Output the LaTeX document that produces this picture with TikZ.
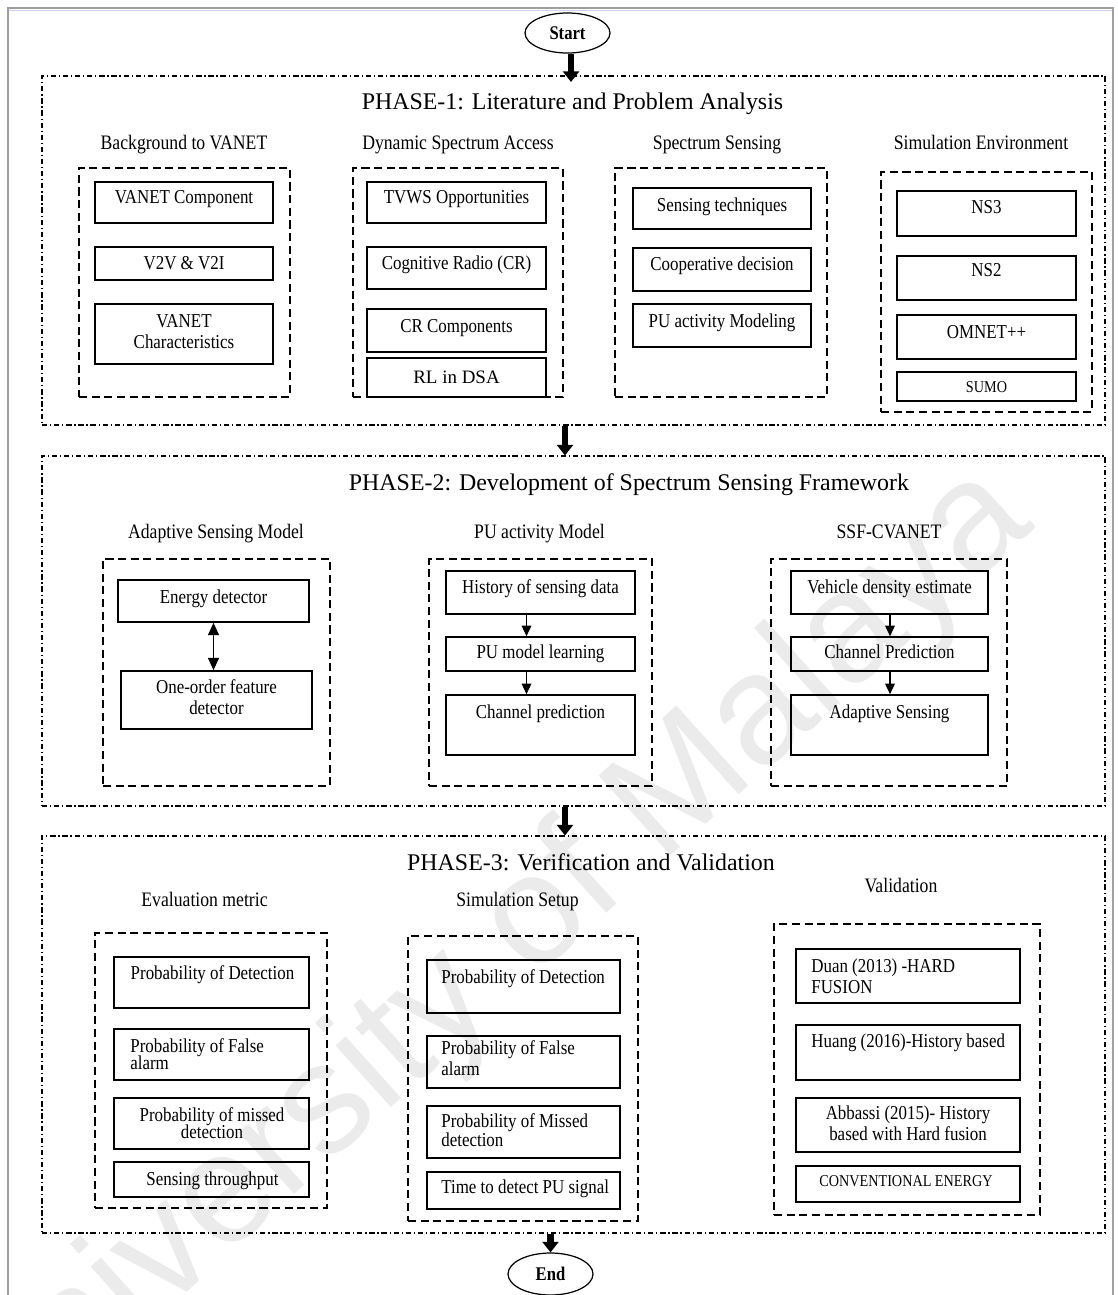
\documentclass[tikz,border=0pt]{standalone}
\usepackage{fontspec}
\setmainfont{Liberation Serif}
\newfontfamily\condfont[FakeStretch=0.86]{Liberation Serif}
\newfontfamily\wmfont{Liberation Sans}
\usetikzlibrary{fit,shapes.geometric,arrows.meta}

\tikzset{
  phasebox/.style={draw, line width=0.6pt, dash pattern=on 3pt off 1.6pt on 0.7pt off 1.6pt, inner sep=0pt},
  groupbox/.style={draw, line width=0.85pt, dash pattern=on 4.6pt off 2.6pt, inner sep=0pt},
  itembox/.style={draw, line width=0.95pt, inner sep=0pt},
  phasetitle/.style={font=\fontsize{13.6}{16}\selectfont, anchor=base, inner sep=0pt},
  grouptitle/.style={font=\condfont\fontsize{11.7}{14}\selectfont, anchor=base, inner sep=0pt},
  itemtext/.style={font=\condfont\fontsize{11.2}{13}\selectfont, anchor=base, inner sep=0pt},
  itemleft/.style={itemtext, anchor=base west},
  smalltext/.style={font=\condfont\fontsize{9.4}{11}\selectfont, anchor=base, inner sep=0pt},
  terminal/.style={draw, ellipse, line width=0.7pt, minimum width=1.7cm, minimum height=0.8cm,
    inner sep=0pt, font=\condfont\bfseries\fontsize{11}{13}\selectfont},
  flowarrow/.style={line width=3.8pt, -{Triangle[width=9pt,length=6pt]}},
  steparrow/.style={line width=0.7pt, -{Triangle[width=5.5pt,length=6pt]}},
  bothways/.style={line width=0.9pt, {Triangle[width=6.2pt,length=7pt]}-{Triangle[width=6.2pt,length=7pt]}},
}

\begin{document}
\begin{tikzpicture}[x=0.02cm, y=-0.02cm]
\useasboundingbox (0,0) rectangle (1118,1295);
\clip (0,0) rectangle (1118,1295);
\fill[white] (0,0) rectangle (1118,1295);

% watermark
\node[font=\wmfont\fontsize{89}{100}\selectfont, text=black!8, rotate=42, inner sep=0pt]
  (wmark) at (486,968) {University of Malaya};

% window frame
\draw[blue!18, line width=1pt] (9,10.5) -- (1112,10.5);
\draw[gray!75, line width=1.2pt] (8,1300) -- (8,8) -- (1113,8) -- (1113,1300);

% start / end
\node[terminal] (start) at (567.5,33) {Start};
\node[terminal, minimum height=0.84cm] (finish) at (550.5,1274) {End};

% ---------------- phase 1 ----------------
\node[phasebox, fit={(42,76) (1105,425)}] (ph1) {};
\node[phasetitle] (ph1t) at (572.5,109.5) {PHASE-1: Literature and Problem Analysis};

\node[grouptitle] (g1t) at (184,149) {Background to VANET};
\node[grouptitle] (g2t) at (458,149) {Dynamic Spectrum Access};
\node[grouptitle] (g3t) at (717,149) {Spectrum Sensing};
\node[grouptitle] (g4t) at (981,149) {Simulation Environment};

\node[groupbox, fit={(79,168) (290,397)}] (g1) {};
\node[groupbox, fit={(353,168) (563,397)}] (g2) {};
\node[groupbox, fit={(615,168) (827,397)}] (g3) {};
\node[groupbox, fit={(881,172) (1092,412)}] (g4) {};

\node[itembox, fit={(95,182) (273,223)}] (b11) {};
\node[itembox, fit={(95,247) (273,280)}] (b12) {};
\node[itembox, fit={(95,304) (273,364)}] (b13) {};
\node[itemtext] (b11t) at (184,203) {VANET Component};
\node[itemtext] (b12t) at (184,269) {V2V \& V2I};
\node[itemtext] (b13t) at (184,327) {VANET};
\node[itemtext] (b13u) at (184,348) {Characteristics};

\node[itembox, fit={(367,182) (546,223)}] (b21) {};
\node[itembox, fit={(367,247) (546,289)}] (b22) {};
\node[itembox, fit={(367,309) (546,352)}] (b23) {};
\node[itembox, fit={(367,358) (546,397)}] (b24) {};
\node[itemtext] (b21t) at (456.5,203) {TVWS Opportunities};
\node[itemtext] (b22t) at (456.5,269) {Cognitive Radio (CR)};
\node[itemtext] (b23t) at (456.5,332) {CR Components};
\node[font=\fontsize{10.8}{13}\selectfont, anchor=base, inner sep=0pt] (b24t) at (456.5,383) {RL in DSA};

\node[itembox, fit={(633,188) (811,229)}] (b31) {};
\node[itembox, fit={(633,248) (811,291)}] (b32) {};
\node[itembox, fit={(633,304) (811,347)}] (b33) {};
\node[itemtext] (b31t) at (722,211) {Sensing techniques};
\node[itemtext] (b32t) at (722,270) {Cooperative decision};
\node[itemtext] (b33t) at (722,327) {PU activity Modeling};

\node[itembox, fit={(897,191) (1076,236)}] (b41) {};
\node[itembox, fit={(897,256) (1076,300)}] (b42) {};
\node[itembox, fit={(897,315) (1076,359)}] (b43) {};
\node[itembox, fit={(897,372) (1076,401)}] (b44) {};
\node[itemtext] (b41t) at (986.5,213) {NS3};
\node[itemtext] (b42t) at (986.5,276) {NS2};
\node[itemtext] (b43t) at (986.5,338) {OMNET++};
\node[smalltext] (b44t) at (986.5,392) {SUMO};

% ---------------- phase 2 ----------------
\node[phasebox, fit={(42,456) (1105,806)}] (ph2) {};
\node[phasetitle] (ph2t) at (629,490.5) {PHASE-2: Development of Spectrum Sensing Framework};

\node[grouptitle] (g5t) at (216,538) {Adaptive Sensing Model};
\node[grouptitle] (g6t) at (539.5,538) {PU activity Model};
\node[grouptitle] (g7t) at (889,538) {SSF-CVANET};

\node[groupbox, fit={(103,559) (330,786)}] (g5) {};
\node[groupbox, fit={(429,559) (652,786)}] (g6) {};
\node[groupbox, fit={(771,559) (1007,786)}] (g7) {};

\node[itembox, fit={(118,580) (309,622)}] (ed) {};
\node[itembox, fit={(121,671) (312,729)}] (oo) {};
\node[itemtext] (edt) at (213.5,603) {Energy detector};
\node[itemtext] (oot) at (216.5,693) {One-order feature};
\node[itemtext] (oou) at (216.5,714) {detector};

\node[itembox, fit={(446,571) (635,614)}] (hs) {};
\node[itembox, fit={(446,637) (635,671)}] (pl) {};
\node[itembox, fit={(446,695) (635,755)}] (cp) {};
\node[itemtext] (hst) at (540.5,593) {History of sensing data};
\node[itemtext] (plt) at (540.5,658) {PU model learning};
\node[itemtext] (cpt) at (540.5,718) {Channel prediction};

\node[itembox, fit={(791,571) (988,614)}] (vd) {};
\node[itembox, fit={(791,637) (988,671)}] (cP) {};
\node[itembox, fit={(791,695) (988,755)}] (as) {};
\node[itemtext] (vdt) at (889.5,593) {Vehicle density estimate};
\node[itemtext] (cPt) at (889.5,658) {Channel Prediction};
\node[itemtext] (ast) at (889.5,718) {Adaptive Sensing};

% ---------------- phase 3 ----------------
\node[phasebox, fit={(42,836) (1105,1233)}] (ph3) {};
\node[phasetitle] (ph3t) at (591,870) {PHASE-3: Verification and Validation};

\node[grouptitle] (g8t) at (204.5,906) {Evaluation metric};
\node[grouptitle] (g9t) at (517.5,906) {Simulation Setup};
\node[grouptitle] (g10t) at (901,892) {Validation};

\node[groupbox, fit={(95,933) (327,1208)}] (g8) {};
\node[groupbox, fit={(408,936) (638,1221)}] (g9) {};
\node[groupbox, fit={(774,924) (1040,1215)}] (g10) {};

\node[itembox, fit={(114,957) (309,1008)}] (e1) {};
\node[itembox, fit={(114,1029) (309,1080)}] (e2) {};
\node[itembox, fit={(114,1098) (309,1149)}] (e3) {};
\node[itembox, fit={(114,1162) (309,1197)}] (e4) {};
\node[itemtext] (e1t) at (212.5,979) {Probability of Detection};
\node[itemleft] (e2t) at (130,1052) {Probability of False};
\node[itemleft] (e2u) at (130,1069) {alarm};
\node[itemtext] (e3t) at (212,1121) {Probability of missed};
\node[itemtext] (e3u) at (212,1138) {detection};
\node[itemtext] (e4t) at (212.5,1185) {Sensing throughput};

\node[itembox, fit={(427,960) (620,1013)}] (s1) {};
\node[itembox, fit={(427,1036) (620,1088)}] (s2) {};
\node[itembox, fit={(427,1106) (620,1158)}] (s3) {};
\node[itembox, fit={(427,1172) (620,1209)}] (s4) {};
\node[itemleft] (s1t) at (441,983) {Probability of Detection};
\node[itemleft] (s2t) at (441,1054) {Probability of False};
\node[itemleft] (s2u) at (441,1075) {alarm};
\node[itemleft] (s3t) at (441,1127) {Probability of Missed};
\node[itemleft] (s3u) at (441,1146) {detection};
\node[itemleft] (s4t) at (441,1193) {Time to detect PU signal};

\node[itembox, fit={(796,949) (1020,1003)}] (v1) {};
\node[itembox, fit={(796,1025) (1020,1080)}] (v2) {};
\node[itembox, fit={(796,1098) (1020,1152)}] (v3) {};
\node[itembox, fit={(796,1166) (1020,1202)}] (v4) {};
\node[itemleft] (v1t) at (811,972) {Duan (2013) -HARD};
\node[itemleft] (v1u) at (811,993) {FUSION};
\node[itemleft] (v2t) at (811,1047) {Huang (2016)-History based};
\node[itemtext] (v3t) at (908,1119) {Abbassi (2015)- History};
\node[itemtext] (v3u) at (908,1140) {based with Hard fusion};
\node[smalltext] (v4t) at (906,1186) {CONVENTIONAL ENERGY};

% ---------------- connectors ----------------
\coordinate (c1) at (571,82);
\coordinate (c2) at (565,0);
\coordinate (c3) at (526.5,0);
\coordinate (c4) at (890,0);

\draw[flowarrow] (start.south -| c1) -- (c1);
\draw[flowarrow] (ph1.south -| c2) -- (ph2.north -| c2);
\draw[flowarrow] (ph2.south -| c2) -- (ph3.north -| c2);
\draw[flowarrow] (ph3.south -| finish) -- (finish.north);

\draw[bothways] (ed.south) -- (ed.south |- oo.north);
\draw[steparrow] (hs.south -| c3) -- (pl.north -| c3);
\draw[steparrow] (pl.south -| c3) -- (cp.north -| c3);
\draw[steparrow] (vd.south -| c4) -- (cP.north -| c4);
\draw[steparrow] (cP.south -| c4) -- (as.north -| c4);
\end{tikzpicture}
\end{document}
